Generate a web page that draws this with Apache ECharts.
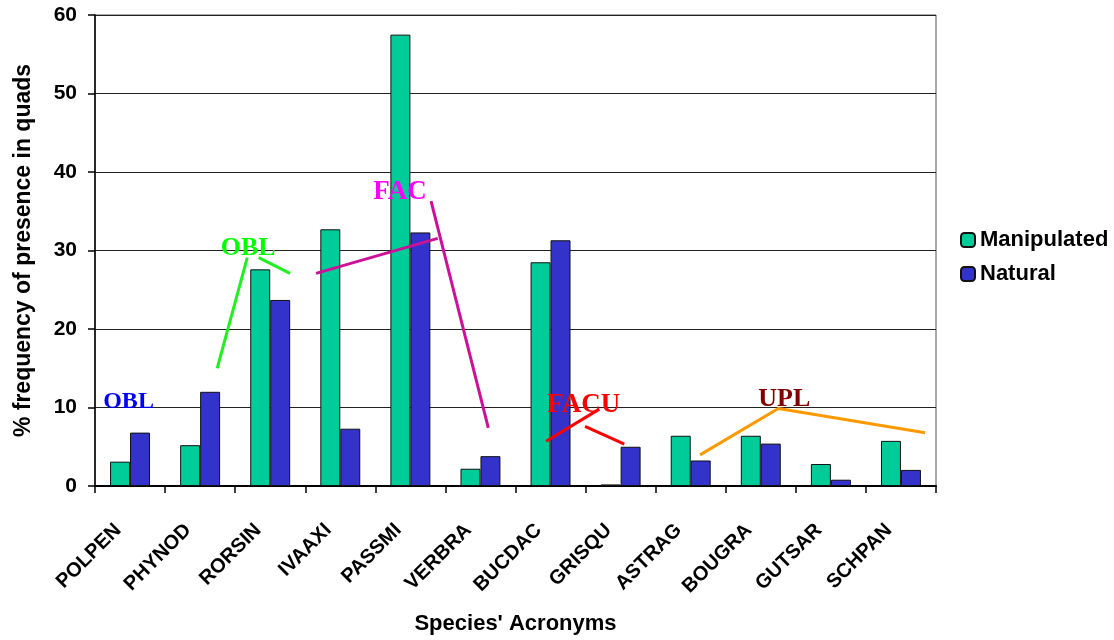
<!DOCTYPE html>
<html>
<head>
<meta charset="utf-8">
<script src="https://cdn.jsdelivr.net/npm/echarts@6/dist/echarts.min.js"></script>
<style>
  html, body { margin: 0; padding: 0; background: #fff; }
  #chart { width: 1114px; height: 640px; }
</style>
</head>
<body>
<div id="chart"></div>
<script>
// Species acronyms along the category axis
const species = ['POLPEN', 'PHYNOD', 'RORSIN', 'IVAAXI', 'PASSMI', 'VERBRA',
                 'BUCDAC', 'GRISQU', 'ASTRAG', 'BOUGRA', 'GUTSAR', 'SCHPAN'];
// % frequency of presence in quads
const manipulated = [3.1, 5.2, 27.6, 32.7, 57.5, 2.2, 28.5, 0.2, 6.4, 6.4, 2.8, 5.75];
const natural     = [6.8, 12.0, 23.7, 7.3, 32.3, 3.8, 31.3, 5.0, 3.25, 5.4, 0.8, 2.05];
// value axis ticks
const yTicks = [0, 10, 20, 30, 40, 50, 60];

// Wetland indicator status call-outs, placed in axis units
// (x in category widths from the left edge, y in % frequency)
const statusLabels = [
  { text: 'OBL',  color: '#0000FF', at: [0.117, 10.7],  size: 24 },
  { text: 'OBL',  color: '#00FF00', at: [1.794, 30.3],  size: 26 },
  { text: 'FAC',  color: '#FF00FF', at: [3.971, 37.4],  size: 27 },
  { text: 'FACU', color: '#FF0000', at: [6.454, 10.35], size: 27 },
  { text: 'UPL',  color: '#800000', at: [9.465, 11.0],  size: 26 }
];
const statusLeaders = [
  { color: '#22EE22', pts: [[1.744, 15.0], [2.173, 29.09]] },
  { color: '#22EE22', pts: [[2.336, 29.09], [2.783, 27.09]] },
  { color: '#CC1199', pts: [[3.154, 27.09], [4.890, 31.54]] },
  { color: '#CC1199', pts: [[4.795, 36.29], [5.612, 7.41]] },
  { color: '#FF0000', pts: [[6.436, 5.71], [7.196, 9.79]] },
  { color: '#FF0000', pts: [[6.992, 7.59], [7.553, 5.34]] },
  { color: '#FF9900', pts: [[8.633, 3.96], [9.750, 9.875], [11.844, 6.79]] }
];

const SANS = '"Liberation Sans", Arial, sans-serif';
const SERIF = '"Liberation Serif", "Times New Roman", serif';

const chart = echarts.init(document.getElementById('chart'), null, { renderer: 'canvas' });

const leaderSeries = statusLeaders.map(l => ({
  type: 'line',
  xAxisIndex: 1,
  yAxisIndex: 0,
  data: l.pts,
  symbol: 'none',
  silent: true,
  animation: false,
  lineStyle: { color: l.color, width: 3 },
  z: 5
}));

chart.setOption({
  animation: false,
  grid: {
    left: 95, right: 178, top: 15, bottom: 145,
    show: true, borderColor: '#555', borderWidth: 1
  },
  legend: {
    orient: 'vertical',
    left: 955,
    top: 224,
    itemWidth: 14,
    itemHeight: 14,
    itemGap: 12,
    data: ['Manipulated', 'Natural'],
    textStyle: { fontFamily: SANS, fontWeight: 'bold', fontSize: 22, color: '#000', lineHeight: 22 }
  },
  xAxis: [
    {
      type: 'category',
      data: species,
      boundaryGap: true,
      name: "Species' Acronyms",
      nameLocation: 'middle',
      nameGap: 127,
      nameTextStyle: { fontFamily: SANS, fontWeight: 'bold', fontSize: 22, color: '#000' },
      axisLine: { lineStyle: { color: '#000', width: 2 } },
      axisTick: { show: true, length: 7, lineStyle: { color: '#000', width: 1.5 } },
      axisLabel: {
        interval: 0, rotate: 45, margin: 29, padding: [0, 17, 0, 0],
        fontFamily: SANS, fontWeight: 'bold', fontSize: 20, color: '#000'
      }
    },
    {
      type: 'value', min: 0, max: species.length, show: false
    }
  ],
  yAxis: {
    type: 'value',
    min: yTicks[0],
    max: yTicks[yTicks.length - 1],
    interval: yTicks[1] - yTicks[0],
    name: '% frequency of presence in quads',
    nameLocation: 'middle',
    nameRotate: 90,
    nameGap: 60,
    nameTextStyle: { fontFamily: SANS, fontWeight: 'bold', fontSize: 23, color: '#000' },
    axisLine: { show: true, lineStyle: { color: '#000', width: 1.5 } },
    axisTick: { show: true, length: 7, lineStyle: { color: '#000', width: 1.5 } },
    axisLabel: { margin: 18, fontFamily: SANS, fontWeight: 'bold', fontSize: 21, color: '#000' },
    splitLine: { show: true, lineStyle: { color: '#222', width: 1.2 } }
  },
  series: [
    {
      name: 'Manipulated',
      type: 'bar',
      data: manipulated,
      barGap: '0%',
      barCategoryGap: '43%',
      itemStyle: { color: '#00CC99', borderColor: '#111', borderWidth: 1 }
    },
    {
      name: 'Natural',
      type: 'bar',
      data: natural,
      itemStyle: { color: '#3333CC', borderColor: '#111', borderWidth: 1 }
    }
  ].concat(leaderSeries)
});

// Status call-out text, positioned through the axes
function placeLabels() {
  const els = statusLabels.map(s => {
    const p = chart.convertToPixel({ xAxisIndex: 1, yAxisIndex: 0 }, s.at);
    return {
      type: 'text',
      x: p[0], y: p[1],
      silent: true,
      z: 10,
      style: {
        text: s.text,
        fill: s.color,
        font: 'bold ' + s.size + 'px ' + SERIF,
        textAlign: 'left',
        textVerticalAlign: 'middle'
      }
    };
  });
  chart.setOption({ graphic: els });
}
placeLabels();
</script>
</body>
</html>
